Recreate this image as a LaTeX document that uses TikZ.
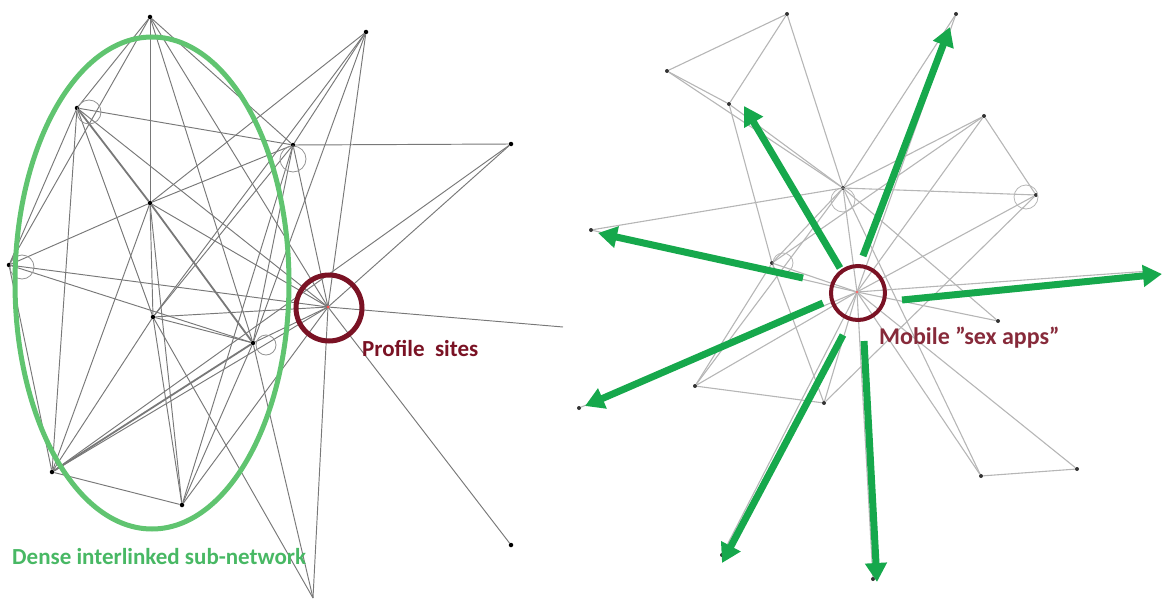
\documentclass[tikz,border=0pt]{standalone}
\usepackage{fontspec}
\setmainfont{Carlito}
\usetikzlibrary{arrows.meta,shapes.geometric}
\definecolor{lgray}{RGB}{120,120,120}
\definecolor{rgray}{RGB}{182,182,182}
\definecolor{ellgreen}{RGB}{96,196,112}
\definecolor{txtgreen}{RGB}{72,184,100}
\definecolor{arrgreen}{RGB}{22,168,76}
\definecolor{maroon}{RGB}{122,18,36}
\tikzset{
  dot/.style={circle,fill=black,inner sep=0pt,minimum size=4.5pt},
  rdot/.style={circle,fill=black!80,inner sep=0pt,minimum size=4pt},
  ledge/.style={draw=lgray,line width=0.95pt},
  ledgethick/.style={draw=lgray,line width=1.8pt},
  redge/.style={draw=rgray,line width=1.1pt},
  loopl/.style={draw=lgray!80,line width=0.8pt},
  loopr/.style={draw=rgray,line width=0.8pt},
  garrow/.style={draw=arrgreen,line width=7pt,-{Triangle[length=19pt,width=21pt]}},
  hubring/.style={draw=maroon,line width=5pt},
  lbl/.style={anchor=west,inner sep=0pt,font=\bfseries\fontsize{23}{27}\selectfont}
}
\begin{document}
\begin{tikzpicture}[x=1pt,y=-1pt]
\useasboundingbox (0,0) rectangle (1163,602);
% ---------------- left network ----------------
\node[dot] (A) at (150,17) {};
\node[dot] (B) at (77,108) {};
\node[dot] (C) at (293,145) {};
\node[dot] (D) at (150,203) {};
\node[dot] (E) at (9,265) {};
\node[dot] (F) at (153,317) {};
\node[dot] (G) at (253,343) {};
\node[dot] (H) at (52,472) {};
\node[dot] (I) at (182,505) {};
\node[dot] (J) at (366,32) {};
\node[dot] (K) at (511,144) {};
\node[dot] (L) at (511,545) {};
\coordinate (M) at (313,598);
\coordinate (P) at (328,307);
\coordinate (Xr) at (563,327);
\foreach \a/\b in {A/B,A/E,A/D,A/C,A/G,A/P,
  B/C,B/E,B/H,B/P,B/F,
  D/C,D/E,D/F,D/H,D/I,D/J,D/P,
  E/P,E/G,E/H,
  F/P,F/G,F/H,F/I,F/M,F/C,
  G/I,G/M,G/P,G/C,
  H/I,H/P,H/K,
  I/C,I/P,
  J/C,J/G,J/P,J/F,
  K/C,K/P,
  P/L,P/M,P/Xr,C/P}
  \draw[ledge] (\a) -- (\b);
\foreach \a/\b in {B/D,D/G,H/G}
  \draw[ledgethick] (\a) -- (\b);
\draw[loopl] (89,112) circle (12pt);
\draw[loopl] (293,159) circle (13pt);
\draw[loopl] (22,267) circle (12pt);
\draw[loopl] (266,345) circle (10pt);
\fill[red!70] (P) circle (1.5pt);
% ---------------- right network ----------------
\node[rdot] (R1) at (787,14) {};
\node[rdot] (R2) at (667,71) {};
\node[rdot] (R3) at (729,104) {};
\node[rdot] (R4) at (843,188) {};
\node[rdot] (R5) at (591,230) {};
\node[rdot] (R6) at (772,263) {};
\node[rdot] (R7) at (956,14) {};
\node[rdot] (R8) at (984,116) {};
\node[rdot] (R9) at (1036,195) {};
\node[rdot] (R10) at (579,408) {};
\node[rdot] (R11) at (695,386) {};
\node[rdot] (R12) at (824,403) {};
\node[rdot] (R13) at (722,555) {};
\node[rdot] (R14) at (998,321) {};
\node[rdot] (R15) at (981,476) {};
\node[rdot] (R16) at (1077,469) {};
\node[rdot] (R17) at (873,579) {};
\coordinate (R18) at (1150,271);
\coordinate (Q) at (857,292);
\foreach \a/\b in {R1/R2,R1/R3,R1/R4,R2/R3,R2/R4,R3/R4,R3/R6,
  R4/R5,R4/R6,R4/Q,R4/R8,R4/R9,R4/R11,R4/R7,R4/R14,
  R5/Q,R6/Q,R6/R11,R6/R12,R6/R8,
  R7/Q,R8/Q,R8/R9,R9/Q,R9/R12,
  R10/Q,R11/Q,R11/R12,R12/Q,R13/Q,R14/Q,
  R15/Q,R15/R4,R15/R16,R16/Q,R17/Q,R18/Q}
  \draw[redge] (\a) -- (\b);
\draw[loopr] (843,200) circle (12pt);
\draw[loopr] (783,263) circle (10pt);
\draw[loopr] (1026,197) circle (12pt);
\fill[red!60] (Q) circle (1.3pt);
% ---------------- highlights ----------------
\node[draw=ellgreen,line width=5pt,ellipse,minimum width=274pt,minimum height=492pt,inner sep=0pt] (ell) at (152,283) {};
\node[hubring,circle,minimum size=66pt,inner sep=0pt] (ringP) at (329,308) {};
\node[draw=maroon,line width=4pt,circle,minimum size=54pt,inner sep=0pt] (ringQ) at (858,293) {};
% green arrows
\coordinate (a1s) at (840,268); \coordinate (a1e) at (744,106);
\coordinate (a2s) at (863,256); \coordinate (a2e) at (950,27);
\coordinate (a3s) at (803,278); \coordinate (a3e) at (598,233);
\coordinate (a4s) at (902,300); \coordinate (a4e) at (1162,274);
\coordinate (a5s) at (823,303); \coordinate (a5e) at (585,406);
\coordinate (a6s) at (843,335); \coordinate (a6e) at (722,563);
\coordinate (a7s) at (864,341); \coordinate (a7e) at (877,582);
\foreach \i in {1,...,7}
  \draw[garrow] (a\i s) -- (a\i e);
% labels
\node[lbl,text=txtgreen] (t1) at (12,557) {Dense interlinked sub-network};
\node[lbl,text=maroon] (t2) at (362,348) {Profile\ \ sites};
\node[lbl,text=maroon!90!white,font=\bfseries\fontsize{24}{28}\selectfont] (t3) at (879,338) {Mobile \char34 sex apps\char34};
\end{tikzpicture}
\end{document}
